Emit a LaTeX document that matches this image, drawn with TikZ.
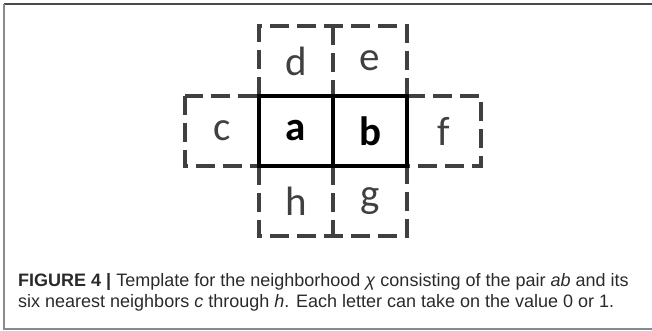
\documentclass[tikz,border=0pt]{standalone}
\usepackage{fontspec}
\usepackage{xcolor}
\usetikzlibrary{positioning,backgrounds}
\setmainfont{Liberation Sans}
\newfontfamily\cellfont{Carlito}
\definecolor{Ink}{HTML}{2A2A2A}
\definecolor{Dash}{HTML}{404040}
\definecolor{Frame}{HTML}{4A4A4A}
\definecolor{FrameSoft}{HTML}{8A8A8A}
\tikzset{
  cell/.style={minimum width=74pt,minimum height=70pt,inner sep=0pt,outer sep=0pt,font=\cellfont\fontsize{41}{41}\selectfont},
  pairbox/.style={cell,draw=black,line width=4pt,font=\cellfont\bfseries\fontsize{41}{41}\selectfont,text=black},
  nbrbox/.style={cell,text=Dash},
  nbrline/.style={draw=Dash,line width=3.5pt,dash pattern=on 19pt off 8pt},
  caption/.style={anchor=base west,align=left,inner sep=0pt,text=Ink,font=\fontsize{18}{21}\selectfont}
}
\begin{document}
\begin{tikzpicture}[x=1pt,y=1pt,node distance=0pt]
  \useasboundingbox (0,0) rectangle (652,330);
  % frame
  \draw[Frame,line width=1.5pt] (4,326) -- (652,326);
  \draw[FrameSoft,line width=1.5pt] (4,326) -- (4,1);
  \draw[FrameSoft,line width=1.5pt] (3.25,1) -- (652,1);
  % the pair and its neighbours
  \node[pairbox] (a) at (296,199) {a};
  \node[pairbox,right=of a] (b) {b};
  \begin{scope}[on background layer]
    \node[nbrbox,left=of a] (c) {c};
    \node[nbrbox,above=of a] (d) {d};
    \node[nbrbox,above=of b] (e) {e};
    \node[nbrbox,right=of b] (f) {f};
    \node[nbrbox,below=of b] (g) {g};
    \node[nbrbox,below=of a] (h) {h};
    \draw[nbrline] (c.north west) rectangle (c.south east);
    \draw[nbrline] (f.north west) rectangle (f.south east);
    \draw[nbrline] (d.south west) -- (d.north west) -- (e.north east) -- (e.south east);
    \draw[nbrline] (d.north east) -- (d.south east);
    \draw[nbrline] (h.north west) -- (h.south west) -- (g.south east) -- (g.north east);
    \draw[nbrline] (h.north east) -- (h.south east);
  \end{scope}
  \node[caption] (cap) at (18,23) {\textbf{FIGURE 4 |} Template for the neighborhood \textit{χ} consisting of the pair \textit{ab} and its\\six nearest neighbors \textit{c} through \textit{h}. Each letter can take on the value 0 or 1.};
\end{tikzpicture}
\end{document}
